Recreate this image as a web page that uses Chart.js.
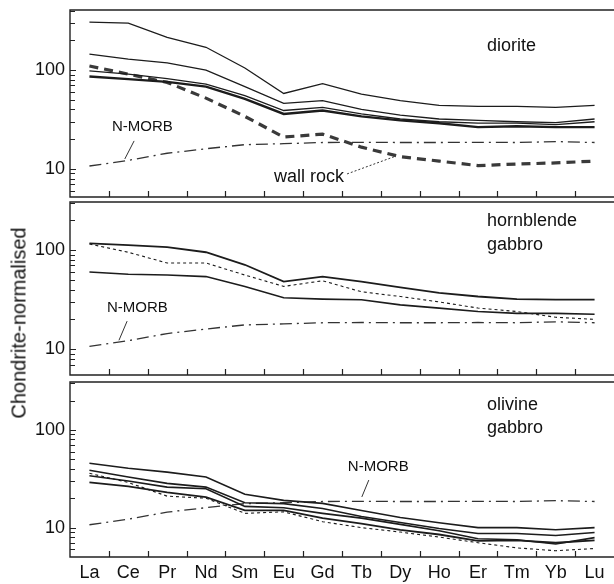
<!DOCTYPE html>
<html>
<head>
<meta charset="utf-8">
<script src="https://cdn.jsdelivr.net/npm/chart.js@4.4.1/dist/chart.umd.min.js"></script>
<style>
    body { margin: 0; background: #fff; width: 614px; height: 584px; position: relative; overflow: hidden; font-family: "Liberation Sans", Arial, sans-serif; }
    canvas { position: absolute; left: 0; }
    #ytitle { position: absolute; left: 19px; top: 323px; transform: translate(-50%, -50%) rotate(-90deg); font-size: 20px; white-space: nowrap; color: #111; }
</style>
</head>
<body>
<canvas id="diorite" width="614" height="200" style="top:0"></canvas>
<canvas id="hornblende" width="614" height="178" style="top:200px"></canvas>
<canvas id="olivine" width="614" height="204" style="top:380px"></canvas>
<div id="ytitle">Chondrite-normalised</div>
<script>
const elements = ['La', 'Ce', 'Pr', 'Nd', 'Sm', 'Eu', 'Gd', 'Tb', 'Dy', 'Ho', 'Er', 'Tm', 'Yb', 'Lu'];
const yLabels = [10, 100];

const nMorb = [10.7, 12.2, 14.4, 16, 17.6, 18, 18.5, 18.6, 18.5, 18.5, 18.6, 18.5, 18.9, 18.5];

// diorite
const dioriteA = [306, 298, 214, 170, 105, 58, 73, 57, 49, 44, 43, 43, 42, 44];
const dioriteB = [145, 129, 118, 100, 68, 46, 49, 40, 35, 32, 31, 30, 29.4, 32];
const dioriteC = [98, 91, 82, 72, 55, 39, 42, 36, 32, 30, 29, 29, 28, 30];
const dioriteD = [86, 81, 76, 68, 51, 36, 39, 34, 31, 29, 26.5, 27, 26.5, 26.5];
const wallRock = [110, 91, 75, 52, 34, 21, 22.5, 16.6, 13.3, 12, 10.8, 11.2, 11.5, 12];

// hornblende gabbro
const hbgA = [117, 112, 107, 95, 71, 48, 54, 48, 42, 37, 34, 32, 31.6, 31.6];
const hbgDotted = [115, 95, 74, 74, 56, 43, 49, 38, 34, 30, 26, 24, 21, 20];
const hbgB = [60, 57, 56, 54, 43, 33, 32, 31.6, 28, 26, 24, 23, 23, 22.5];

// olivine gabbro
const olgA = [45.7, 40.6, 37, 33, 22, 19, 17.7, 15, 12.7, 11.2, 10, 10, 9.5, 10];
const olgB = [38.7, 33, 28.4, 26, 18, 17.6, 15.7, 13, 11.3, 9.8, 8.7, 8.7, 8.3, 8.9];
const olgC = [34, 30, 26, 25, 16.5, 16, 14, 12.5, 10.8, 9.3, 7.7, 7.5, 6.8, 7.9];
const olgD = [29, 26.5, 23, 20.5, 15, 15, 12.5, 11, 9.5, 8.5, 7.3, 7.4, 7, 7.4];
const olgDotted = [36, 29, 21, 20, 14, 14.5, 11.5, 10, 9, 8, 7, 6.2, 5.8, 6.1];

const ink = '#1c1c1c';
const fontFamily = '"Liberation Sans", Arial, sans-serif';

function line(data, width, dash, color) {
    return {
        data,
        borderColor: color || ink,
        borderWidth: width,
        borderDash: dash || [],
        pointRadius: 0,
        tension: 0,
        fill: false,
    };
}

const morbLine = () => line(nMorb, 1.3, [12, 5, 2, 5], '#333');

// frame, inner ticks and text notes
const framePlugin = {
    id: 'frame',
    afterDraw(chart, args, opts) {
        const { ctx, chartArea: a, scales } = chart;
        ctx.save();
        ctx.strokeStyle = '#222';
        ctx.lineWidth = 1.4;
        ctx.beginPath();
        ctx.moveTo(a.right, a.top);
        ctx.lineTo(a.left, a.top);
        ctx.lineTo(a.left, a.bottom);
        ctx.lineTo(a.right, a.bottom);
        ctx.stroke();

        ctx.lineWidth = 1.2;
        ctx.beginPath();
        for (let i = 0; i < elements.length - 1; i++) {
            const x = Math.round(scales.x.getPixelForValue(i + 0.5)) + 0.5;
            ctx.moveTo(x, a.bottom);
            ctx.lineTo(x, a.bottom - 6);
        }
        scales.y.ticks.forEach((t) => {
            const m = t.value / Math.pow(10, Math.floor(Math.log10(t.value) + 1e-9));
            if (Math.abs(m - Math.round(m)) > 1e-6) return;
            const y = Math.round(scales.y.getPixelForValue(t.value)) + 0.5;
            if (y <= a.top + 1 || y >= a.bottom - 1) return;
            ctx.moveTo(a.left, y);
            ctx.lineTo(a.left + (Math.round(m) === 1 ? 6 : 5), y);
        });
        ctx.stroke();

        ctx.fillStyle = '#111';
        ctx.textAlign = 'left';
        ctx.textBaseline = 'middle';
        (opts.texts || []).forEach((t) => {
            ctx.font = `${t.size}px ${fontFamily}`;
            ctx.fillText(t.text, scales.x.getPixelForValue(t.x), scales.y.getPixelForValue(t.y));
        });
        (opts.leaders || []).forEach((l) => {
            ctx.beginPath();
            ctx.lineWidth = 1;
            ctx.strokeStyle = '#333';
            ctx.setLineDash(l.dash || []);
            ctx.moveTo(scales.x.getPixelForValue(l.from[0]), scales.y.getPixelForValue(l.from[1]));
            ctx.lineTo(scales.x.getPixelForValue(l.to[0]), scales.y.getPixelForValue(l.to[1]));
            ctx.stroke();
        });
        ctx.restore();
    },
};

function makePanel(id, datasets, yMin, yMax, showX, notes, padTop, padBottom) {
    return new Chart(document.getElementById(id), {
        type: 'line',
        data: { labels: elements, datasets },
        plugins: [framePlugin],
        options: {
            responsive: false,
            animation: false,
            layout: { padding: { top: padTop, bottom: padBottom, left: 0, right: 0 } },
            plugins: { legend: { display: false }, tooltip: { enabled: false }, frame: notes },
            scales: {
                x: {
                    type: 'category',
                    offset: true,
                    display: showX,
                    grid: { display: false, drawTicks: false },
                    border: { display: false },
                    ticks: {
                        color: '#111',
                        font: { family: fontFamily, size: 18 },
                        padding: 5,
                        autoSkip: false,
                        maxRotation: 0,
                    },
                    afterFit: (s) => {
                        s.height = showX ? 27 : 0;
                        s.paddingLeft = 0;
                        s.paddingRight = 0;
                    },
                },
                y: {
                    type: 'logarithmic',
                    min: yMin,
                    max: yMax,
                    grid: { display: false, drawTicks: false },
                    border: { display: false },
                    ticks: {
                        color: '#111',
                        font: { family: fontFamily, size: 18 },
                        padding: 5,
                        autoSkip: false,
                        callback: (v) => (yLabels.includes(v) ? String(v) : ''),
                    },
                    afterFit: (s) => {
                        s.width = 70;
                        s.paddingTop = 0;
                        s.paddingBottom = 0;
                    },
                },
            },
        },
    });
}

makePanel('diorite', [
    line(dioriteA, 1.3),
    line(dioriteB, 1.3),
    line(dioriteC, 1.3),
    line(dioriteD, 2.4),
    line(wallRock, 3.2, [9, 6], '#3a3a3a'),
    morbLine(),
], 5.2, 405, false, {
    texts: [
        { text: 'diorite', x: 10.23, y: 174, size: 18 },
        { text: 'N-MORB', x: 0.58, y: 26.6, size: 15 },
        { text: 'wall rock', x: 4.75, y: 8.3, size: 18 },
    ],
    leaders: [
        { from: [1.15, 19.2], to: [0.91, 12.6] },
        { from: [6.63, 8.9], to: [7.89, 13.5], dash: [2, 2] },
    ],
}, 10, 3);

makePanel('hornblende', [
    line(hbgA, 1.8),
    line(hbgDotted, 1.1, [3, 3]),
    line(hbgB, 1.6),
    morbLine(),
], 5.5, 305, false, {
    texts: [
        { text: 'hornblende', x: 10.23, y: 196, size: 18 },
        { text: 'gabbro', x: 10.23, y: 112, size: 18 },
        { text: 'N-MORB', x: 0.45, y: 26, size: 15 },
    ],
    leaders: [
        { from: [0.97, 19.2], to: [0.76, 12.3] },
    ],
}, 2, 3);

makePanel('olivine', [
    line(olgA, 1.6),
    line(olgB, 1.6),
    line(olgC, 1.6),
    line(olgD, 1.8),
    line(olgDotted, 1.1, [3, 3]),
    morbLine(),
], 5, 310, true, {
    texts: [
        { text: 'olivine', x: 10.23, y: 180, size: 18 },
        { text: 'gabbro', x: 10.23, y: 105, size: 18 },
        { text: 'N-MORB', x: 6.65, y: 41.8, size: 15 },
    ],
    leaders: [
        { from: [7.19, 30.7], to: [7.01, 20.6] },
    ],
}, 2, 0);
</script>
</body>
</html>
